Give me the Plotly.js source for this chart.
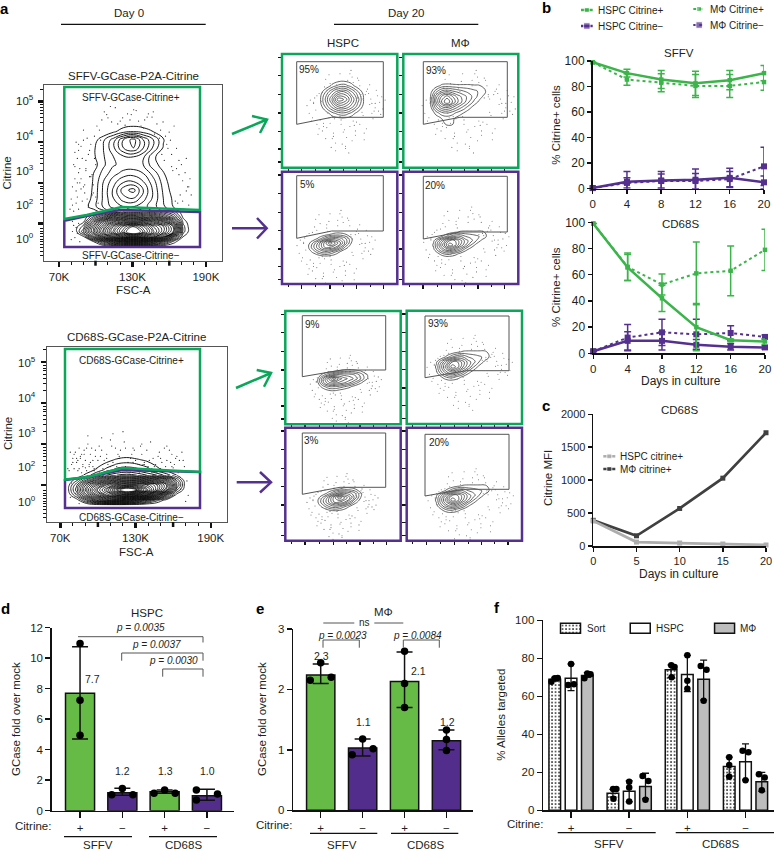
<!DOCTYPE html>
<html>
<head>
<meta charset="utf-8">
<script src="https://cdn.plot.ly/plotly-3.0.1.min.js"></script>
<style>body { margin: 0; background: #fff; }</style>
</head>
<body>
<div id="figure"></div>
<script>
// Panel b, days and series
var bDays = [0, 4, 8, 12, 16, 20];
var sffvHspcPos = [99, 90.5, 85.5, 82.5, 85, 90.5];
var sffvHspcPosErr = [0, 3, 7, 9.5, 7.5, 6];
var sffvMacPos = [99, 85.5, 83, 80.5, 80.5, 83.5];
var sffvMacPosErr = [0, 4.5, 7, 9, 9, 6.5];
var sffvHspcNeg = [0.5, 5.5, 6.5, 7, 8.5, 5];
var sffvHspcNegErr = [0, 8, 7, 8.5, 7.5, 5];
var sffvMacNeg = [0.5, 4.5, 6, 6, 7.5, 17.5];
var sffvMacNegErr = [0, 4, 5.5, 6, 6, 15];
var cd68HspcPos = [99, 65.5, 42, 20, 10, 9];
var cd68HspcPosErr = [0, 10, 10, 18, 1, 2];
var cd68MacPos = [99, 66, 52.5, 61, 63, 79];
var cd68MacPosErr = [0, 10.5, 8, 24, 19, 15.7];
var cd68HspcNeg = [1.5, 9.5, 9.5, 6.5, 5, 4.5];
var cd68HspcNegErr = [0, 7, 7, 4, 2.5, 1.5];
var cd68MacNeg = [1.5, 12, 16, 14.5, 15.5, 12.5];
var cd68MacNegErr = [0, 10, 10, 11.5, 5.5, 1.5];

// Panel c
var cDays = [0, 5, 10, 15, 20];
var cHspcMfi = [380, 60, 45, 30, 15];
var cMacMfi = [390, 155, 570, 1030, 1720];

// Panels d, e, f
var citrineLabels = ['+', '\u2212', '+', '\u2212'];
var dMeans = [7.7, 1.18, 1.25, 0.98];
var dErrUp = [3.05, 0.3, 0.1, 0.42];
var dErrDown = [3, 0.17, 0.1, 0.3];
var dPointX = [0, 0, 0, 1, 0.75, 1.25, 1.75, 2, 2.25, 2.75, 2.75, 3.25];
var dPointY = [10.97, 7.25, 4.95, 1.45, 1.05, 1.05, 1.15, 1.35, 1.15, 1.35, 0.7, 1.1];
var eMeans = [2.24, 1.03, 2.13, 1.15];
var eErrUp = [0.18, 0.15, 0.49, 0.18];
var eErrDown = [0.14, 0.13, 0.43, 0.15];
var ePointX = [0, -0.25, 0.25, 1, 0.75, 1.25, 2, 2, 2, 3, 3, 3];
var ePointY = [2.44, 2.15, 2.2, 1.18, 0.92, 1.02, 2.63, 2.1, 1.7, 1.33, 1.17, 0.99];
var fSort = [69, 9, 74, 23];
var fHspc = [69.5, 10, 71.5, 25.5];
var fMac = [71, 12.5, 69, 15];
var fSortUp = [1, 2, 2.5, 5];
var fSortDown = [1, 2, 4, 5];
var fHspcUp = [7.5, 5.5, 10, 9.5];
var fHspcDown = [6.5, 5.5, 9, 9.5];
var fMacUp = [1.5, 7, 10, 5];
var fMacDown = [1, 6.5, 11, 5];
var fSortPointX = [-0.337, -0.28, -0.228, 0.723, 0.78, 0.73, 1.723, 1.78, 1.73, 2.72, 2.72, 2.72];
var fSortPointY = [67.7, 69.5, 69.6, 11.2, 11.2, 6.1, 76.3, 75.4, 70, 27.9, 23.9, 17.7];
var fHspcPointX = [0, -0.05, 0.05, 1, 1, 1, 2, 2, 2, 2.95, 3.05, 3];
var fHspcPointY = [77, 66, 66.3, 15, 12, 4.6, 81.6, 68.2, 64, 31.4, 30.5, 15.8];
var fMacPointX = [0.23, 0.28, 0.335, 1.23, 1.33, 1.28, 2.23, 2.33, 2.28, 3.23, 3.33, 3.28];
var fMacPointY = [69.5, 72, 71.6, 18, 15.4, 5.6, 76, 74, 57.7, 19, 17.2, 10.5];

// Panel a, density grids (row 0 is at the top of the small plots)
var topFscGrid = [81.9, 90, 98.2, 106.3, 114.5, 122.6, 130.8, 138.9, 147, 155.2, 163.3, 171.4, 179.6];
var topCitGrid = [4.47, 4.26, 4.06, 3.86, 3.64, 3.44, 3.23, 3.03, 2.82, 2.62, 2.41, 2.29, 2.16, 2.04, 1.92, 1.79, 1.67, 1.55, 1.42];
var topDensity = [
  [0, 0, 0, 0, 0, 0.3, 0.4, 0.3, 0, 0, 0, 0, 0],
  [0, 0, 0, 0, 0.8, 1.6, 2, 1.6, 1, 0.3, 0, 0, 0],
  [0, 0, 0.4, 1.8, 3.5, 6, 7.5, 5, 3, 1.1, 0, 0, 0],
  [0, 0, 0.8, 2, 3.8, 6, 7, 5, 2.8, 0.9, 0, 0, 0],
  [0, 0, 0.8, 1.9, 3, 3.8, 4, 3.2, 1.2, 0.4, 0, 0, 0],
  [0, 0, 0.5, 1.8, 2.9, 3.3, 3.3, 3, 1.4, 0.6, 0, 0, 0],
  [0, 0, 1, 2.4, 3.6, 4.4, 4.6, 4, 2.6, 1.1, 0.2, 0, 0],
  [0, 0, 1.1, 3, 4.6, 5.8, 6, 5, 3.4, 1.5, 0.3, 0, 0],
  [0, 0, 1.2, 3.2, 5.2, 7.6, 8.4, 6, 3.8, 1.8, 0.5, 0, 0],
  [0, 0.2, 1.3, 3.2, 5, 6.6, 7, 5.4, 3.8, 2, 0.8, 0, 0],
  [0, 0.5, 1.5, 3.2, 4.4, 5, 5, 4.4, 3.4, 2.2, 1, 0.2, 0],
  [0, 0, 0.5, 1.5, 3, 5, 5.2, 5, 4, 3, 2, 0.5, 0],
  [0, 0.2, 2.5, 5, 8, 9.5, 10, 9, 8, 6, 4, 0.8, 0],
  [0, 0.8, 5, 9, 12, 14, 14.5, 14, 12, 10, 7, 1.5, 0],
  [0.3, 2, 7, 11, 15, 18, 20, 18, 15, 13, 10, 2, 0],
  [0, 3, 7.5, 12, 16, 19, 22, 19, 16, 13, 10, 2, 0],
  [0, 0.8, 5, 9, 12.5, 15, 16, 15, 13, 10, 5, 1, 0],
  [0, 0, 1, 3.5, 6, 7.5, 8, 7.5, 6, 4, 1.5, 0, 0],
  [0, 0, 0, 0, 0.2, 0.4, 0.5, 0.3, 0, 0, 0, 0, 0]
];
var bottomFscGrid = [75.1, 83.1, 91.1, 99, 107, 115, 123, 131, 139, 147, 154.9, 162.9, 170.9];
var bottomCitGrid = [2.73, 2.61, 2.49, 2.37, 2.24, 2.12, 2, 1.88, 1.76, 1.63, 1.51];
var bottomDensity = [
  [0, 0, 0, 0, 0, 0.3, 0.5, 0.3, 0, 0, 0, 0, 0],
  [0, 0, 0, 0, 0.6, 1.2, 1.5, 1.2, 0.8, 0, 0, 0, 0],
  [0, 0, 0, 0.6, 1.4, 2.2, 2.4, 2.2, 1.6, 0.8, 0, 0, 0],
  [0, 0, 0.3, 1.2, 2.4, 3.4, 3.8, 3.4, 2.6, 1.4, 0.6, 0, 0],
  [0, 0.2, 1.4, 3, 5, 6, 6.5, 6, 5, 4, 2.5, 1, 0],
  [0, 1.5, 4, 6.5, 9, 10.5, 11, 11, 10, 9, 7, 3, 0],
  [0.3, 3, 7, 10, 13, 15, 16, 16, 15, 13, 10, 4, 0],
  [0.4, 3.5, 8, 12, 15, 19, 22, 20, 17, 13, 9, 2.5, 0],
  [0.1, 2.5, 6.5, 10, 13, 15, 16, 14, 12, 8, 4, 0.6, 0],
  [0, 0.5, 3, 6, 8, 8.5, 8, 6, 4, 2, 0.5, 0, 0],
  [0, 0, 0, 0.3, 0.6, 0.8, 0.6, 0.2, 0, 0, 0, 0, 0]
];
var roundDensity = [
  [0, 0, 0, 0, 0, 0, 0, 0, 0],
  [0, 0, 1.2, 2.2, 2.4, 1.4, 0.2, 0, 0],
  [0, 2.1, 4.3, 6, 6.2, 4.4, 2.3, 0.3, 0],
  [0.3, 3.2, 6, 9.8, 8.8, 6, 3.4, 0.6, 0],
  [0, 2.2, 4.4, 6.2, 6, 4.6, 2.4, 0.3, 0],
  [0, 0.3, 1.5, 2.4, 2.6, 1.6, 0.4, 0, 0],
  [0, 0, 0, 0, 0, 0, 0, 0, 0]
];
var wideDensity = [
  [0, 0, 0, 0, 0, 0, 0, 0, 0, 0, 0, 0, 0],
  [0, 0, 0.3, 1.2, 1.4, 1.3, 1.2, 1.2, 1.2, 1.1, 1, 0.3, 0],
  [0, 0.4, 2.5, 4, 4.5, 4, 3.5, 3, 2.6, 2.2, 1.8, 1.1, 0],
  [0, 1, 4.5, 7, 8.5, 7, 5.5, 4.5, 3.5, 2.5, 1.4, 0.5, 0],
  [0, 1, 5, 8, 10, 8, 6, 4.5, 3, 1.6, 0.6, 0, 0],
  [0, 0.6, 3.5, 5.5, 6, 5, 3.8, 2.6, 1.4, 0.4, 0, 0, 0],
  [0, 0, 1.4, 2.6, 3, 2.4, 1.6, 1, 0.3, 0, 0, 0, 0],
  [0, 0, 0.3, 1, 1.3, 1.2, 0.6, 0, 0, 0, 0, 0, 0],
  [0, 0, 0, 0.6, 1.2, 1.1, 0.3, 0, 0, 0, 0, 0, 0],
  [0, 0, 0, 0, 0.2, 0.2, 0, 0, 0, 0, 0, 0, 0]
];
var tiltDensity = [
  [0, 0, 0, 0, 0, 0, 0, 0, 0, 0, 0],
  [0, 0, 0, 0, 0.3, 1, 1.4, 1.4, 1, 0.2, 0],
  [0, 0, 0.3, 1.5, 3.2, 4.6, 5, 4.4, 3, 1.2, 0],
  [0, 0.6, 2.4, 4.6, 7.5, 9.8, 8, 6, 3.4, 1, 0],
  [0, 1, 3, 5, 7, 7, 6, 3.8, 1.5, 0.2, 0],
  [0, 0.3, 1.6, 3, 3.8, 3.4, 2.2, 0.9, 0, 0, 0],
  [0, 0, 0, 0.6, 1, 0.8, 0.3, 0, 0, 0, 0],
  [0, 0, 0, 0, 0, 0, 0, 0, 0, 0, 0]
];
var tailDensity = [
  [0, 0, 0, 0, 0, 0, 0, 0, 0, 0, 0, 0, 0],
  [0, 0, 0, 0, 0.2, 0.8, 1.2, 1.3, 1.3, 1.3, 1.3, 0.7, 0],
  [0, 0, 0.2, 1.4, 3, 4, 4, 3, 2.6, 2.2, 1.8, 0.9, 0],
  [0, 0.8, 3, 5.5, 8, 8, 6.5, 4.5, 3.4, 2, 0.8, 0, 0],
  [0, 1.2, 4, 7, 9.8, 8.5, 6, 4, 2, 0.6, 0, 0, 0],
  [0, 0.8, 3, 5, 6, 5, 3.4, 1.5, 0.4, 0, 0, 0, 0],
  [0, 0, 1, 2.2, 2.4, 1.6, 0.7, 0, 0, 0, 0, 0, 0],
  [0, 0, 0, 0, 0.1, 0, 0, 0, 0, 0, 0, 0, 0]
];
var longDensity = [
  [0, 0, 0, 0, 0, 0, 0, 0, 0, 0, 0, 0, 0],
  [0, 0, 0, 0, 0.3, 1, 1.3, 1.4, 1.2, 0.9, 0.3, 0, 0],
  [0, 0.2, 1.4, 3, 4.4, 5, 4.6, 4.4, 3.8, 2.6, 1.2, 0.4, 0],
  [0, 1, 4, 7, 9.8, 7.5, 6.4, 5.6, 4.6, 3, 1.3, 0.2, 0],
  [0, 1, 3.8, 5.8, 6.4, 5.8, 5, 4, 2.6, 1.2, 0.2, 0, 0],
  [0, 0.3, 1.6, 2.8, 3, 2.6, 2, 1.2, 0.3, 0, 0, 0, 0],
  [0, 0, 0.2, 0.8, 1, 0.6, 0.2, 0, 0, 0, 0, 0, 0],
  [0, 0, 0, 0, 0, 0, 0, 0, 0, 0, 0, 0, 0]
];

// Panel a, single events outside the contours
var topDotFsc = [92,84,101,88,97,83,110,86,94,90,131,85,99,118,89,95,107,126,82,93,140,87,103,150,91,122,96,113,84,146,100,88,135,81,158,94,160,128,105,86,164,92,153,98,143,83,168,116,90,171,137,97,162,80,174,109,85,166,155,93,176,124,89,170,148,102,173,87,159,133,95,167,120,84,178,142,91,163,175,99,152,86,169,104,156,88,172,81,165,96,161,129,83,177,112,92,154,139,85,168,147,100,79,174,90,157,82,166,94,171,86,162,98,176,81,85,80,84,87,79,83,82,86,81];
var topDotCit = [3.3,2.5,4.4,3.9,2.7,3.1,4.6,2.35,3.7,2.9,4.8,3.6,4.15,4.45,2.55,3.15,4.75,4.7,2.3,4.1,4.55,3.35,4.3,4.45,2.75,4.6,3.95,4.5,2.8,4.62,3.45,3.1,4.52,2.45,3.95,2.4,4.25,4.55,4.55,3.8,4.4,3.55,4.3,2.95,4.7,3.4,3.55,4.85,4.05,3.05,4.4,3.2,3.7,2.6,2.8,4.68,2.65,3.85,4.5,2.6,2.45,4.42,3.6,3.45,4.2,2.5,3.25,3.0,3.85,4.78,3.8,2.5,4.52,4.0,2.7,4.62,2.95,3.3,2.9,3.6,4.1,3.25,2.7,4.05,3.55,2.85,2.35,2.9,2.55,3.15,4.05,4.68,3.75,3.1,4.88,3.35,3.7,4.35,3.0,3.2,4.75,2.65,2.35,3.6,4.3,4.15,3.45,3.35,2.45,2.55,3.95,3.4,2.75,2.9,2.05,1.75,1.6,1.9,1.55,2.1,1.65,1.95,2.0,1.8];
var bottomDotFsc = [107,92,135,84,120,148,98,112,88,128,105,155,94,142,81,117,163,101,133,89,152,110,78,125,96,146,86,139,115,159,91,130,103,167,83,122,150,99,137,87,113,161,95,143,80,127,108,156,90,134,118,165,85,147,102,124,93,153,77,131,111,141,97,160,82,121,106,149,89,136,100,169,84,116,144,92,129,158,104,79,138,114,151,86,123,96,164,81,132,109,145,94,157,119,88,126,101,162,83,140,112,154,91,135,98,148,85,128,166,107,76,143,117,93,159,80,133,103,150,87,122,168,97,137,110,155,90,126,79,171,82,166,170,85,78,88,172];
var bottomDotCit = [2.75,3.2,3.0,2.6,3.3,2.7,2.85,3.25,2.45,2.9,2.6,2.95,2.55,3.05,2.4,2.65,2.7,2.95,2.5,2.75,2.35,3.1,2.8,2.3,2.6,2.5,2.7,2.85,2.45,2.75,2.35,2.6,3.15,2.8,2.55,2.45,2.65,2.4,2.55,2.3,2.35,2.5,2.9,2.4,2.65,2.75,2.5,2.35,2.6,2.95,2.85,2.6,2.4,2.3,2.7,2.55,2.45,2.9,2.35,2.4,2.95,2.6,2.35,2.42,2.8,3.05,2.3,2.8,2.85,2.5,2.6,2.45,2.35,2.75,2.65,3.0,2.85,2.55,2.4,2.5,2.35,2.9,2.55,2.65,2.35,2.45,2.3,2.75,2.5,2.3,2.45,2.75,2.85,2.4,2.5,2.65,2.3,2.65,2.65,2.45,2.55,2.45,2.9,2.75,2.7,2.35,2.9,2.55,2.35,2.65,2.4,2.3,2.7,2.5,2.45,2.55,2.3,2.85,2.4,2.75,2.9,2.6,2.4,2.5,2.45,2.6,2.42,2.35,2.05,2.1,1.8,1.9,1.6,1.55,1.7,1.45,1.75];
var smallDotX = [4,-21,16,-9,28,-3,-27,11,21,-15,2,-31,25,-12,8,33,-18,-6,19,-24,13,36,-2,-28,7,-16,23,-10,30,0,-22,15,5,-33,18,-7,26,-19,10,-13,34,-4,-26,21,3,-17,12,29,-8,-23,16,-1,38,-14,24,6,-20,9,-11,31,-5,17,-29,1,22,-16,27,-9,13,-25,4,19,-3,-18,32,-12,8,-22,24,-7,15,-30,11,-15,-2,20,-24,35,6,-10,26,-19,14,2,-27,17,-6,29,-13,9];
var smallDotY = [-24,12,-9,27,4,-30,-3,22,-14,19,38,6,-7,-21,31,-4,15,-17,24,-10,-26,2,16,10,-33,29,-12,9,-15,23,20,-19,42,-1,8,33,-3,-13,17,-29,7,-23,-8,20,28,-18,14,1,11,25,-11,34,-6,6,-20,18,-5,-22,37,-10,-14,5,13,21,-16,-25,11,24,-8,3,-19,30,9,18,4,15,-27,-12,-2,40,16,-6,26,-15,12,-11,16,-9,-30,29,6,22,-24,36,-4,-7,-20,-3,10,13];

var W = 774, H = 851;
var GREEN_GATE = '#0aa65a', PURPLE_GATE = '#54318f';
var GREEN_LINE = '#3bb54a', PURPLE_LINE = '#55308f';
var GREEN_BAR = '#65bb46', PURPLE_BAR = '#522d8c';
var INK = '#231f20', FONT = '"Liberation Sans", Arial, sans-serif';

var data = [];
var layout = {
    width: W,
    height: H,
    margin: { l: 0, r: 0, t: 0, b: 0 },
    paper_bgcolor: '#fff',
    plot_bgcolor: 'rgba(0,0,0,0)',
    showlegend: false,
    barmode: 'overlay',
    font: { family: FONT, size: 11.5, color: INK },
    shapes: [],
    annotations: []
};

// Every axes pair is placed from its pixel box on the page
function setAxes(n, left, right, top, bottom, xOpts, yOpts) {
    var base = { showgrid: false, zeroline: false, fixedrange: true };
    layout['xaxis' + n] = Object.assign({}, base, { domain: [left / W, right / W], anchor: 'y' + n }, xOpts);
    layout['yaxis' + n] = Object.assign({}, base, { domain: [1 - bottom / H, 1 - top / H], anchor: 'x' + n }, yOpts);
}
function on(n, trace) {
    trace.xaxis = 'x' + n;
    trace.yaxis = 'y' + n;
    trace.hoverinfo = 'skip';
    data.push(trace);
}
// Overlay with page pixels, for labels, gates and keys
layout.xaxis = { domain: [0, 1], range: [0, W], visible: false, fixedrange: true, anchor: 'y' };
layout.yaxis = { domain: [0, 1], range: [H, 0], visible: false, fixedrange: true, anchor: 'x' };
function overlay(trace) {
    trace.xaxis = 'x';
    trace.yaxis = 'y';
    trace.hoverinfo = 'skip';
    data.push(trace);
}
function label(x, y, text, size, extra) {
    layout.annotations.push(Object.assign({
        xref: 'x', yref: 'y', x: x, y: y, text: text, showarrow: false,
        xanchor: 'center', yanchor: 'middle', borderpad: 0,
        font: { family: FONT, size: size || 11.5, color: INK }
    }, extra || {}));
}
function stroke(points, color, width, closed) {
    var path = points.map(function (p, i) { return (i ? 'L' : 'M') + p[0] + ' ' + p[1]; }).join(' ') + (closed ? ' Z' : '');
    layout.shapes.push({ type: 'path', xref: 'x', yref: 'y', layer: 'above', path: path, line: { color: color, width: width } });
}

// ---- Panel a: big gating plots ----
var logTicks = [2, 3, 4, 5];
var logMinor = [1.2, 1.3, 1.4, 1.47, 1.55, 1.6, 1.67, 1.75, 1.8, 1.87, 2.3, 2.48, 2.6, 2.7, 2.78, 2.85, 2.92, 3.3, 3.48, 3.6, 3.7, 3.78, 3.85, 3.92, 4.3, 4.48, 4.6, 4.7, 4.78, 4.85, 4.92, 5.3];
function mainAxes(n, l, r, t, b, xr, yr) {
    setAxes(n, l, r, t, b, {
        range: xr, tickmode: 'array', tickvals: [70, 130, 190], ticktext: ['70K', '130K', '190K'],
        ticks: 'outside', ticklen: 5, tickwidth: 2.5, tickcolor: '#111', tickfont: { size: 11.5 },
        showline: true, mirror: true, linecolor: '#555', linewidth: 1,
        minor: { tickmode: 'array', tickvals: [80, 90, 100, 110, 120, 140, 150, 160, 170, 180], ticks: 'outside', ticklen: 3, tickwidth: 1, tickcolor: '#111' }
    }, {
        range: yr, tickmode: 'array', tickvals: logTicks, showticklabels: false,
        ticks: 'outside', ticklen: 5, tickwidth: 2.5, tickcolor: '#111',
        showline: true, mirror: true, linecolor: '#555', linewidth: 1,
        minor: { tickmode: 'array', tickvals: logMinor, ticks: 'outside', ticklen: 3, tickwidth: 1, tickcolor: '#111' }
    });
}
mainAxes(2, 44.3, 222.3, 85, 260.7, [58, 203.4], [1.08, 5.41]);
mainAxes(3, 46.7, 227.3, 346.7, 522, [59.15, 203.2], [1.1, 5.37]);

function contourTrace(z, place, size, end, color, width) {
    return Object.assign({
        type: 'contour', z: z, autocontour: false, showscale: false,
        contours: { start: 1, end: end, size: size, coloring: 'none' },
        line: { color: color, width: width, smoothing: 1.3 }
    }, place);
}
function dotTrace(x, y, color, size) {
    return { type: 'scatter', mode: 'markers', x: x, y: y, marker: { color: color, size: size, line: { width: 0 } } };
}
on(2, dotTrace(topDotFsc, topDotCit, '#222', 1.2));
on(2, contourTrace(topDensity.slice(0, 12), { x: topFscGrid, y: topCitGrid.slice(0, 12) }, 1, 9, '#000', 0.9));
on(2, contourTrace(topDensity.slice(11), { x: topFscGrid, y: topCitGrid.slice(11) }, 0.7, 20, '#000', 0.8));
on(3, dotTrace(bottomDotFsc, bottomDotCit, '#222', 1.2));
on(3, contourTrace(bottomDensity.slice(0, 5), { x: bottomFscGrid, y: bottomCitGrid.slice(0, 5) }, 1, 6, '#000', 0.9));
on(3, contourTrace(bottomDensity.slice(4), { x: bottomFscGrid, y: bottomCitGrid.slice(4) }, 0.7, 20, '#000', 0.8));

// gates on the big plots
stroke([[64.3, 247], [64.3, 220.7], [86.7, 216], [120, 210], [200, 212], [200, 247]], PURPLE_GATE, 2.5, true);
stroke([[64.3, 87], [200, 87], [200, 210], [121.7, 207], [86.7, 215], [64.3, 219]], GREEN_GATE, 2.5, true);
stroke([[65, 480], [88, 477], [122, 470], [200, 472], [200, 508], [65, 508]], PURPLE_GATE, 2.5, true);
stroke([[65, 349], [200, 349], [200, 472], [122, 468], [88, 477], [65, 479.5]], GREEN_GATE, 2.5, true);
// heavier 100K and 160K ticks
stroke([[95.5, 260.7], [95.5, 265.7]], '#111', 2.5);
stroke([[169.3, 260.7], [169.3, 265.7]], '#111', 2.5);
stroke([[97.9, 522], [97.9, 527]], '#111', 2.5);
stroke([[173.1, 522], [173.1, 527]], '#111', 2.5);

// tick labels of the citrine axis do not sit on the ticks in the original
var topExpY = [100, 135, 170, 204, 238.3];
var bottomExpY = [362.3, 397.3, 431.7, 466, 501];
var expLabels = ['10<sup>5</sup>', '10<sup>4</sup>', '10<sup>3</sup>', '10<sup>2</sup>', '10<sup>0</sup>'];
expLabels.forEach(function (t, i) {
    label(25, topExpY[i], t, 11.5);
    label(27, bottomExpY[i], t, 11.5);
});

label(129.3, 13.3, 'Day 0');
stroke([[61, 24.3], [205.7, 24.3]], '#111', 1.2);
label(406, 13.3, 'Day 20');
stroke([[334, 24.3], [478.3, 24.3]], '#111', 1.2);
label(343.3, 43.3, 'HSPC');
label(460, 43.3, 'M\u03a6');
label(133.3, 76, 'SFFV-GCase-P2A-Citrine');
label(130.7, 97.7, 'SFFV-GCase-Citrine+', 10);
label(131, 255, 'SFFV-GCase-Citrine\u2212', 10);
label(6.5, 173, 'Citrine', 11.5, { textangle: -90 });
label(133, 290, 'FSC-A');
label(136.7, 336.7, 'CD68S-GCase-P2A-Citrine');
label(131.7, 360, 'CD68S-GCase-Citrine+', 10);
label(131.7, 517.3, 'CD68S-GCase-Citrine\u2212', 10);
label(8, 434, 'Citrine', 11.5, { textangle: -90 });
label(136.7, 551.7, 'FSC-A');

// arrows between the big and small plots
stroke([[232, 134], [267, 119.5]], GREEN_GATE, 2.5);
stroke([[252, 116], [267, 119.5], [260, 133]], GREEN_GATE, 2.5);
stroke([[232, 228.3], [266, 228.3]], PURPLE_GATE, 2.5);
stroke([[257, 218], [266.7, 228.3], [257, 238.5]], PURPLE_GATE, 2.5);
stroke([[236, 388], [271, 373]], GREEN_GATE, 2.5);
stroke([[256.7, 370], [271, 373], [264, 386.7]], GREEN_GATE, 2.5);
stroke([[236.7, 482.3], [270, 482.3]], PURPLE_GATE, 2.5);
stroke([[260, 472], [271, 482.3], [260, 492.5]], PURPLE_GATE, 2.5);

// ---- Panel a: small plots ----
var smallTickX = [19.7, 48, 74.7, 101.3];
var smallTickXMinor = [6, 33.8, 61.3, 88];
var smallTickY = [3.3, 21.6, 40.6, 59, 77.3, 95, 108];
var smallPlots = [
    { n: 4, box: [282, 397.3, 54, 167.7], frame: GREEN_GATE, z: roundDensity, x0: 37, dx: 6.5, y0: 24.5, dy: 7, cx: 61.3, cy: 52.7, sx: 1.1, sy: 1.1, pct: '95%', px: 309.3, py: 69.3,
      gate: [[296.7, 61.7], [383.3, 61.7], [383.3, 117.3], [331.7, 117.3], [296.7, 124.3]] },
    { n: 5, box: [403.3, 518.3, 54, 167.7], frame: GREEN_GATE, z: wideDensity, x0: 21.7, dx: 5.5, y0: 26, dy: 5.5, cx: 63.4, cy: 52.7, sx: 1.35, sy: 1.1, pct: '93%', px: 435.7, py: 70,
      gate: [[423.3, 61.7], [507.3, 61.7], [507.3, 117.3], [460, 117.3], [423.3, 124.3]] },
    { n: 6, box: [282, 397.3, 171.7, 284], frame: PURPLE_GATE, z: tiltDensity, x0: 21.3, dx: 5.33, y0: 58.3, dy: 4.33, cx: 51.3, cy: 75, sx: 1.1, sy: 1.1, pct: '5%', px: 307.7, py: 184.3,
      gate: [[296.7, 175.7], [383.3, 175.7], [383.3, 231], [331.7, 231], [296.7, 238.3]] },
    { n: 7, box: [403.3, 518.3, 171.7, 284], frame: PURPLE_GATE, z: tailDensity, x0: 25, dx: 5.33, y0: 56, dy: 4.33, cx: 60, cy: 71.6, sx: 1.2, sy: 1.1, pct: '20%', px: 435, py: 185.3,
      gate: [[423.3, 176.3], [507.3, 176.3], [507.3, 232], [460, 232], [423.3, 239]] },
    { n: 8, box: [285.3, 400.7, 311, 424.3], frame: GREEN_GATE, z: longDensity, x0: 27.4, dx: 5.33, y0: 55.7, dy: 4, cx: 58, cy: 74, sx: 1, sy: 0.9, pct: '9%', px: 312.3, py: 324.3,
      gate: [[302.3, 315.7], [385.7, 315.7], [385.7, 370], [341.7, 370], [302.3, 376.7]] },
    { n: 9, box: [406.7, 522, 310.7, 424], frame: GREEN_GATE, z: tailDensity, x0: 24.3, dx: 5.33, y0: 36.3, dy: 5, cx: 60, cy: 57.6, sx: 1.2, sy: 1, pct: '93%', px: 438.3, py: 323.3,
      gate: [[425, 316], [509, 316], [509, 370.7], [466.7, 370.7], [425, 377.7]] },
    { n: 10, box: [285.3, 400.7, 427.7, 540.7], frame: PURPLE_GATE, z: tiltDensity, x0: 27.4, dx: 5.33, y0: 57, dy: 4.33, cx: 54.7, cy: 75.6, sx: 1, sy: 0.9, pct: '3%', px: 311.7, py: 440.7,
      gate: [[302.3, 433], [385.7, 433], [385.7, 487.3], [340, 487.3], [302.3, 494.3]] },
    { n: 11, box: [406.7, 522, 427.7, 540.7], frame: PURPLE_GATE, z: tailDensity, x0: 24.3, dx: 5.33, y0: 53.6, dy: 4.7, cx: 61, cy: 74, sx: 1.2, sy: 1, pct: '20%', px: 439, py: 442.7,
      gate: [[425, 434.3], [509, 434.3], [509, 489.3], [463.3, 489.3], [425, 496]] }
];
smallPlots.forEach(function (p) {
    var w = p.box[1] - p.box[0], h = p.box[3] - p.box[2];
    setAxes(p.n, p.box[0], p.box[1], p.box[2], p.box[3], {
        range: [0, w], tickmode: 'array', tickvals: smallTickX, showticklabels: false,
        ticks: 'outside', ticklen: 3.5, tickwidth: 1.2, tickcolor: '#111',
        minor: { tickmode: 'array', tickvals: smallTickXMinor, ticks: 'outside', ticklen: 2, tickwidth: 1, tickcolor: '#111' }
    }, {
        range: [h, 0], tickmode: 'array', tickvals: smallTickY, showticklabels: false,
        ticks: 'outside', ticklen: 3.5, tickwidth: 1.5, tickcolor: '#111'
    });
    on(p.n, dotTrace(
        smallDotX.map(function (v) { return p.cx + v * p.sx; }),
        smallDotY.map(function (v) { return p.cy + v * p.sy; }),
        '#777', 1.1));
    on(p.n, contourTrace(p.z, { x0: p.x0, dx: p.dx, y0: p.y0, dy: p.dy }, 1, 10, '#333', 0.75));
    stroke([[p.box[0], p.box[2]], [p.box[1], p.box[2]], [p.box[1], p.box[3]], [p.box[0], p.box[3]]], p.frame, 2.5, true);
    stroke(p.gate, '#555', 1, true);
    label(p.px, p.py, p.pct, 10);
});

// ---- Panel b ----
function lineAxes(n, l, r, t, b, xr, yr, xTicks, yTicks, xSize, ySize) {
    setAxes(n, l, r, t, b, {
        range: xr, tickmode: 'array', tickvals: xTicks, ticks: 'outside', ticklen: 4, tickwidth: 1.5, tickcolor: '#111',
        showline: true, linecolor: '#111', linewidth: 1.7, tickfont: { size: xSize }
    }, {
        range: yr, tickmode: 'array', tickvals: yTicks, ticks: 'outside', ticklen: 4, tickwidth: 1.5, tickcolor: '#111',
        showline: true, linecolor: '#111', linewidth: 1.7, tickfont: { size: ySize }
    });
}
var bTicks = [0, 4, 8, 12, 16, 20], pctTicks = [0, 20, 40, 60, 80, 100];
lineAxes(12, 592.7, 764, 61, 188.7, [0, 20], [0, 100], bTicks, pctTicks, 11.5, 12);
lineAxes(13, 593.3, 765, 222.3, 353.3, [0, 20], [0, 100], bTicks, pctTicks, 11.5, 12);
function series(y, err, color, dash, size, width) {
    return {
        type: 'scatter', mode: 'lines+markers', x: bDays, y: y, cliponaxis: false,
        line: { color: color, width: width, dash: dash },
        marker: { color: color, symbol: 'square', size: size },
        error_y: { type: 'data', array: err, color: color, thickness: 1.5, width: 3.5 }
    };
}
on(12, series(sffvMacNeg, sffvMacNegErr, PURPLE_LINE, 'dot', 6, 2));
on(12, series(sffvHspcNeg, sffvHspcNegErr, PURPLE_LINE, 'solid', 6, 2.5));
on(12, series(sffvMacPos, sffvMacPosErr, GREEN_LINE, 'dot', 4.5, 2));
on(12, series(sffvHspcPos, sffvHspcPosErr, GREEN_LINE, 'solid', 4.5, 2.5));
on(13, series(cd68MacNeg, cd68MacNegErr, PURPLE_LINE, 'dot', 6, 2));
on(13, series(cd68HspcNeg, cd68HspcNegErr, PURPLE_LINE, 'solid', 6, 2.5));
on(13, series(cd68MacPos, cd68MacPosErr, GREEN_LINE, 'dot', 4.5, 2));
on(13, series(cd68HspcPos, cd68HspcPosErr, GREEN_LINE, 'solid', 4.5, 2.5));
label(679.3, 52.7, 'SFFV');
label(680.7, 224.3, 'CD68S');
label(555.7, 125, '% Citrine+ cells', 11.5, { textangle: -90 });
label(556.7, 287.3, '% Citrine+ cells', 11.5, { textangle: -90 });
label(680.7, 380.7, 'Days in culture', 12);

function legendKey(x0, x1, y, color, dash, size, width, text, textX) {
    overlay({
        type: 'scatter', mode: 'lines+markers', x: [x0, (x0 + x1) / 2, x1], y: [y, y, y],
        line: { color: color, width: width, dash: dash },
        marker: { color: color, symbol: 'square', size: [0, size, 0] }
    });
    label(textX, y, text, 10, { xanchor: 'left' });
}
legendKey(581, 592.7, 10, GREEN_LINE, 'solid', 5, 2.5, 'HSPC Citrine+', 597.3);
legendKey(581, 592.7, 26, PURPLE_LINE, 'solid', 6.5, 2.5, 'HSPC Citrine\u2212', 597.3);
legendKey(693.3, 705, 9, GREEN_LINE, 'dot', 5, 2, 'M\u03a6 Citrine+', 709);
legendKey(693.3, 705, 25, PURPLE_LINE, 'dot', 6.5, 2, 'M\u03a6 Citrine\u2212', 709);

// ---- Panel c ----
lineAxes(14, 593.3, 766, 414.3, 546, [0, 20], [0, 2000], cDays, [0, 500, 1000, 1500, 2000], 11, 11);
function mfi(y, color) {
    return {
        type: 'scatter', mode: 'lines+markers', x: cDays, y: y, cliponaxis: false,
        line: { color: color, width: 2.7 },
        marker: { color: color, symbol: 'square', size: 5 }
    };
}
on(14, mfi(cMacMfi, '#404040'));
on(14, mfi(cHspcMfi, '#adadad'));
label(679.3, 410, 'CD68S');
label(547.3, 477.7, 'Citrine MFI', 11.5, { textangle: -90 });
label(679.3, 574, 'Days in culture', 12);
legendKey(603.3, 615.3, 456.3, '#adadad', 'solid', 5, 2.5, 'HSPC citrine+', 618.7);
legendKey(603.3, 615.3, 469, '#404040', 'solid', 5, 2.5, 'M\u03a6 citrine+', 618.7);

// ---- Panels d and e ----
function barAxes(n, l, r, t, b, xr, yr, yTicks, xTicks) {
    setAxes(n, l, r, t, b, {
        range: xr, tickmode: 'array', tickvals: xTicks, ticktext: citrineLabels,
        ticks: 'outside', ticklen: 6, tickwidth: 1.5, tickcolor: '#111',
        showline: true, linecolor: '#111', linewidth: 1.7, tickfont: { size: 11.5 }
    }, {
        range: yr, tickmode: 'array', tickvals: yTicks, ticks: 'outside', ticklen: 5, tickwidth: 1.5, tickcolor: '#111',
        showline: true, linecolor: '#111', linewidth: 1.7, tickfont: { size: 11.5 }
    });
}
function pointsTrace(x, y, size) {
    return { type: 'scatter', mode: 'markers', x: x, y: y, cliponaxis: false, marker: { color: '#000', size: size } };
}
var barColors = [GREEN_BAR, PURPLE_BAR, GREEN_BAR, PURPLE_BAR];
var barX = [0, 1, 2, 3];
function foldBars(means, up, down, width) {
    return {
        type: 'bar', x: barX, y: means, width: width, cliponaxis: false,
        marker: { color: barColors, line: { color: '#111', width: 1.5 } },
        error_y: { type: 'data', symmetric: false, array: up, arrayminus: down, color: '#111', thickness: 1.5, width: 8 }
    };
}
barAxes(15, 52, 234, 627.7, 810.7, [-0.663, 3.64], [0, 12], [0, 2, 4, 6, 8, 10, 12], barX);
on(15, foldBars(dMeans, dErrUp, dErrDown, 0.687));
on(15, pointsTrace(dPointX, dPointY, 7.5));
barAxes(16, 293.3, 473.3, 629, 810.3, [-0.654, 3.64], [0, 3], [0, 1, 2, 3], barX);
on(16, foldBars(eMeans, eErrUp, eErrDown, 0.675));
on(16, pointsTrace(ePointX, ePointY, 7.5));

label(146.7, 612.7, 'HSPC');
label(16, 719, 'GCase fold over mock', 11.5, { textangle: -90 });
label(92.3, 679, '7.7', 10.5);
label(122.7, 770.7, '1.2', 10.5);
label(165, 770.7, '1.3', 10.5);
label(207, 770.7, '1.0', 10.5);
var pFont = { family: FONT, size: 10, color: INK, style: 'italic' };
label(140.7, 627.7, 'p = 0.0035', 10, { font: pFont });
label(156.7, 644.3, 'p = 0.0037', 10, { font: pFont });
label(173, 660.3, 'p = 0.0030', 10, { font: pFont });
stroke([[78, 636.7], [203, 636.7], [203, 642.5]], '#555', 1);
stroke([[121.7, 660.7], [121.7, 653], [203, 653], [203, 660.7]], '#555', 1);
stroke([[162.7, 676.7], [162.7, 669], [203, 669], [203, 676.7]], '#555', 1);
label(51.5, 825.7, 'Citrine:', 11.5, { xanchor: 'right' });
stroke([[64, 836.7], [132, 836.7]], '#111', 1.2);
stroke([[149, 836.7], [217, 836.7]], '#111', 1.2);
label(98, 844.5, 'SFFV');
label(183, 844.5, 'CD68S');

label(383.3, 612.3, 'M\u03a6');
label(262, 719, 'GCase fold over mock', 11.5, { textangle: -90 });
label(321, 655.7, '2.3', 10.5);
label(363.7, 722, '1.1', 10.5);
label(418, 670.7, '2.1', 10.5);
label(447.7, 722, '1.2', 10.5);
label(342, 635, 'p = 0.0023', 10, { font: pFont });
label(417.3, 635, 'p = 0.0084', 10, { font: pFont });
stroke([[323, 647.7], [323, 640], [359.3, 640], [359.3, 647.7]], '#555', 1);
stroke([[403.3, 647.7], [403.3, 640], [439.3, 640], [439.3, 647.7]], '#555', 1);
stroke([[323.3, 623], [354.3, 623]], '#555', 1);
stroke([[374.3, 623], [403.3, 623]], '#555', 1);
label(364.7, 622.5, 'ns', 10);
label(293, 825, 'Citrine:', 11.5, { xanchor: 'right' });
stroke([[310, 833.3], [377.3, 833.3]], '#111', 1.2);
stroke([[391, 833.3], [458.3, 833.3]], '#111', 1.2);
label(342.3, 844.5, 'SFFV');
label(425.7, 844.5, 'CD68S');

// ---- Panel f ----
barAxes(17, 543.3, 774, 620.3, 810.3, [-0.477, 3.49], [0, 100], [0, 20, 40, 60, 80, 100], barX);
function shifted(offset) {
    return barX.map(function (v) { return v + offset; });
}
function alleleBars(x, y, up, down, marker) {
    var bar = {
        type: 'bar', x: x, y: y, width: 0.2, cliponaxis: false,
        marker: Object.assign({ line: { color: '#111', width: 1.5 } }, marker)
    };
    if (up) bar.error_y = { type: 'data', symmetric: false, array: up, arrayminus: down, color: '#111', thickness: 1.3, width: 3.5 };
    return bar;
}
var sortMarker = { color: '#fff', pattern: { shape: '.', fgcolor: '#333', bgcolor: '#fff', size: 3.5, solidity: 0.22 } };
var hspcMarker = { color: '#fff' };
var macMarker = { color: '#bdbdbd' };
on(17, alleleBars(shifted(-0.28), fSort, fSortUp, fSortDown, sortMarker));
on(17, alleleBars(shifted(0), fHspc, fHspcUp, fHspcDown, hspcMarker));
on(17, alleleBars(shifted(0.28), fMac, fMacUp, fMacDown, macMarker));
on(17, pointsTrace(fSortPointX, fSortPointY, 6.5));
on(17, pointsTrace(fHspcPointX, fHspcPointY, 6.5));
on(17, pointsTrace(fMacPointX, fMacPointY, 6.5));
// legend swatches sit inside the plot
function swatch(x, marker, text, textX) {
    var t = alleleBars([x], [5.2], null, null, marker);
    t.base = [93.2];
    t.width = 0.344;
    on(17, t);
    label(textX, 628.3, text, 10, { xanchor: 'left' });
}
swatch(-0.009, sortMarker, 'Sort', 586);
swatch(1.19, hspcMarker, 'HSPC', 655);
swatch(2.64, macMarker, 'M\u03a6', 739);
label(500.7, 715, '% Alleles targeted', 11.5, { textangle: -90 });
label(544.3, 824.3, 'Citrine:', 11.5, { xanchor: 'right' });
stroke([[557.7, 832.7], [655.7, 832.7]], '#111', 1.2);
stroke([[675.7, 832.7], [774, 832.7]], '#111', 1.2);
label(609.3, 844.3, 'SFFV');
label(720.7, 844.3, 'CD68S');

// Panel letters
var panelFont = { family: FONT, size: 15, color: '#000', weight: 'bold' };
[['a', 4, 8], ['b', 546.7, 7.3], ['c', 546, 405], ['d', 5, 608], ['e', 259.5, 608], ['f', 497, 607.7]].forEach(function (p) {
    label(p[1], p[2], p[0], 15, { font: panelFont });
});

Plotly.newPlot('figure', data, layout, { displayModeBar: false, staticPlot: true });
</script>
</body>
</html>
